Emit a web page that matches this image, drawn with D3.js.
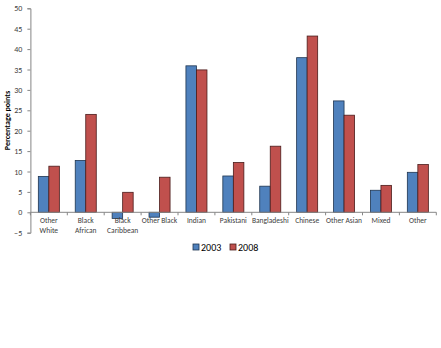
<!DOCTYPE html>
<html><head><meta charset="utf-8">
<script src="https://cdn.jsdelivr.net/npm/d3@7"></script>
<style>body{margin:0;background:#fff}svg{display:block;font-family:Calibri,Carlito,"Liberation Sans",Arial,sans-serif}</style>
</head><body><svg id="c" width="441" height="348"></svg>
<script>
const categories = [["Other","White"],["Black","African"],["Black","Caribbean"],["Other Black"],["Indian"],["Pakistani"],["Bangladeshi"],["Chinese"],["Other Asian"],["Mixed"],["Other"]];
const series2003 = [8.8, 12.7, -1.5, -1.2, 35.9, 8.9, 6.4, 37.9, 27.3, 5.4, 9.8];
const series2008 = [11.3, 24.0, 4.9, 8.6, 34.9, 12.2, 16.2, 43.2, 23.8, 6.6, 11.7];
const seriesNames = ["2003","2008"];
const yTicks = [-5,0,5,10,15,20,25,30,35,40,45,50];

const svg = d3.select("#c");
const x0 = 30.4, x1 = 436.3, yTop = 8.3, yBot = 232.7;
const x = d3.scaleBand().domain(d3.range(categories.length)).range([x0, x1]).paddingInner(0).paddingOuter(0);
const y = d3.scaleLinear().domain([-5, 50]).range([yBot, yTop]);
const colors = ["#4f81bd","#c0504d"];
const strokes = ["#1f3550","#4a1c1b"];
const axisColor = "#868686";

// y axis
const ya = svg.append("g").attr("transform",`translate(${x0},0)`)
  .call(d3.axisLeft(y).tickValues(yTicks).tickSize(3).tickPadding(5).tickFormat(d3.format("d")));
ya.select(".domain").attr("stroke", axisColor);
ya.selectAll(".tick line").attr("stroke", axisColor);
ya.selectAll(".tick text").attr("fill","#404040").style("font-size","8px").style("font-family","Calibri,Carlito,'Liberation Sans',Arial,sans-serif");

// bars
const bw = x.bandwidth()*0.285;
const data = [series2003, series2008];
data.forEach((s, si) => {
  svg.append("g").selectAll("rect").data(s).join("rect")
    .attr("x", (d,i) => x(i) + x.bandwidth()/2 - bw + si*bw)
    .attr("y", d => y(Math.max(0,d)))
    .attr("width", bw)
    .attr("height", d => Math.abs(y(d)-y(0)))
    .attr("fill", colors[si])
    .attr("stroke", strokes[si]).attr("stroke-width", 0.8);
});

// x axis at zero
const xa = svg.append("g").attr("transform",`translate(0,${y(0)})`);
xa.append("line").attr("x1",x0).attr("x2",x1).attr("y1",0).attr("y2",0).attr("stroke",axisColor);
const tickPos = d3.range(categories.length+1).map(i => x0 + i*x.bandwidth());
xa.selectAll("line.t").data(tickPos).join("line").attr("class","t")
  .attr("x1",d=>d).attr("x2",d=>d).attr("y1",0).attr("y2",3).attr("stroke",axisColor);
const lab = svg.append("g");
categories.forEach((lines,i) => {
  const t = lab.append("text").attr("x", x(i)+x.bandwidth()/2).attr("y", y(0)+11)
    .attr("text-anchor","middle").attr("fill","#404040").style("font-size","7.5px");
  lines.forEach((l,j) => t.append("tspan").attr("x", x(i)+x.bandwidth()/2).attr("dy", j===0?0:9.5).text(l));
});

// y label
svg.append("text").attr("transform",`translate(10,${(yTop+yBot)/2}) rotate(-90)`)
  .attr("text-anchor","middle").style("font-size","8px").style("font-weight","bold").attr("fill","#000")
  .text("Percentage points");

// legend
const lg = svg.append("g");
const lx = [193, 230];
seriesNames.forEach((n,i) => {
  lg.append("rect").attr("x", lx[i]).attr("y", 244).attr("width",6).attr("height",6)
    .attr("fill", colors[i]).attr("stroke", strokes[i]).attr("stroke-width",0.8);
  lg.append("text").attr("x", lx[i]+8).attr("y", 250.5).style("font-size","10px").attr("fill","#000").text(n);
});
</script></body></html>
